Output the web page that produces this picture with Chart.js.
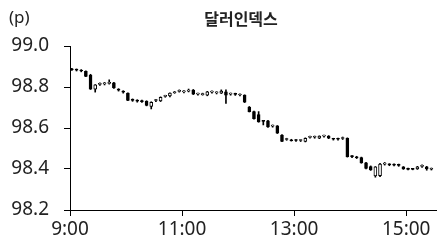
<!DOCTYPE html>
<html>
<head>
<meta charset="utf-8">
<script src="https://cdn.jsdelivr.net/npm/chart.js@4/dist/chart.umd.min.js"></script>
<style>
  html, body { margin: 0; padding: 0; background: #fff; }
  #wrap { width: 437px; height: 246px; }
</style>
</head>
<body>
<div id="wrap"><canvas id="dxyChart" width="437" height="246"></canvas></div>
<script>
// 5-minute candles, minutes after 9:00
const minutes = [0,5,10,15,20,25,30,35,40,45,50,55,60,65,70,75,80,85,90,95,100,105,110,115,120,125,130,135,140,145,150,155,160,165,170,175,180,185,190,195,200,205,210,215,220,225,230,235,240,245,250,255,260,265,270,275,280,285,290,295,300,305,310,315,320,325,330,335,340,345,350,355,360,365,370,375,380,385];
const openValues = [98.886,98.883,98.880,98.876,98.858,98.790,98.813,98.815,98.818,98.820,98.787,98.777,98.770,98.736,98.733,98.731,98.730,98.705,98.734,98.732,98.754,98.756,98.772,98.779,98.776,98.780,98.785,98.765,98.763,98.760,98.775,98.771,98.770,98.776,98.765,98.765,98.761,98.760,98.702,98.680,98.665,98.634,98.635,98.609,98.610,98.566,98.544,98.542,98.540,98.539,98.535,98.554,98.555,98.550,98.560,98.561,98.546,98.546,98.549,98.550,98.461,98.456,98.456,98.430,98.412,98.366,98.368,98.424,98.421,98.420,98.418,98.410,98.401,98.400,98.400,98.413,98.410,98.399];
const highValues = [98.891,98.888,98.885,98.879,98.862,98.812,98.820,98.822,98.835,98.823,98.792,98.782,98.772,98.742,98.738,98.736,98.733,98.728,98.740,98.752,98.760,98.772,98.778,98.786,98.782,98.790,98.788,98.770,98.770,98.779,98.781,98.777,98.786,98.786,98.771,98.770,98.767,98.762,98.705,98.683,98.680,98.635,98.637,98.615,98.612,98.568,98.550,98.545,98.544,98.543,98.552,98.560,98.561,98.562,98.566,98.563,98.550,98.551,98.556,98.552,98.466,98.462,98.458,98.432,98.415,98.412,98.428,98.432,98.426,98.425,98.424,98.412,98.404,98.403,98.413,98.420,98.413,98.405];
const lowValues = [98.881,98.878,98.874,98.850,98.788,98.775,98.808,98.810,98.814,98.793,98.780,98.770,98.733,98.730,98.726,98.725,98.708,98.693,98.729,98.729,98.750,98.752,98.769,98.775,98.771,98.776,98.763,98.760,98.760,98.757,98.770,98.766,98.768,98.720,98.760,98.759,98.756,98.724,98.678,98.643,98.628,98.615,98.603,98.604,98.573,98.533,98.540,98.536,98.535,98.534,98.532,98.550,98.550,98.548,98.555,98.548,98.541,98.541,98.544,98.458,98.455,98.451,98.428,98.401,98.393,98.360,98.362,98.419,98.416,98.415,98.413,98.398,98.396,98.396,98.398,98.408,98.394,98.395];
const closeValues = [98.884,98.882,98.878,98.852,98.790,98.810,98.815,98.816,98.820,98.795,98.785,98.775,98.735,98.735,98.731,98.729,98.710,98.725,98.736,98.750,98.756,98.770,98.776,98.781,98.777,98.781,98.765,98.766,98.768,98.776,98.776,98.772,98.780,98.760,98.766,98.764,98.762,98.726,98.680,98.645,98.630,98.632,98.605,98.610,98.575,98.535,98.545,98.538,98.539,98.540,98.550,98.555,98.556,98.560,98.561,98.550,98.545,98.545,98.550,98.460,98.460,98.455,98.430,98.403,98.395,98.410,98.424,98.425,98.420,98.419,98.418,98.400,98.398,98.398,98.410,98.414,98.400,98.400];
const yTicks = [98.2, 98.4, 98.6, 98.8, 99.0];
const xTicks = [0, 120, 240, 360];

const chartTitle = '달러인덱스';
const unitLabel = '(p)';

document.addEventListener('DOMContentLoaded', function() {
  const canvas = document.getElementById('dxyChart');

  // candle drawn in the middle of its 5 minute slot
  const slotCenter = 2;
  const wickData = minutes.map((m, i) => ({ x: m + slotCenter, y: [lowValues[i], highValues[i]] }));
  const bodyData = minutes.map((m, i) => ({ x: m + slotCenter, y: [openValues[i], closeValues[i]] }));
  const bodyFill = minutes.map((m, i) => closeValues[i] > openValues[i] ? '#ffffff' : '#000000');

  const titlePlugin = {
    id: 'titleText',
    afterDraw(chart) {
      const ctx = chart.ctx;
      ctx.save();
      ctx.fillStyle = '#222';
      ctx.textBaseline = 'middle';
      ctx.font = '17px "Noto Sans", "Noto Sans CJK KR"';
      ctx.textAlign = 'left';
      ctx.fillText(unitLabel, 9, 18);
      ctx.font = 'bold 16px "Noto Sans CJK KR"';
      ctx.textAlign = 'center';
      ctx.fillText(chartTitle, 241, 19);
      ctx.restore();
    }
  };

  new Chart(canvas, {
    type: 'bar',
    data: {
      datasets: [
        {
          label: 'body',
          data: bodyData,
          backgroundColor: bodyFill,
          borderColor: '#000000',
          borderWidth: 1,
          borderSkipped: false,
          barThickness: 3,
          minBarLength: 1,
          grouped: false,
          order: 0
        },
        {
          label: 'wick',
          data: wickData,
          backgroundColor: '#000000',
          borderWidth: 0,
          barThickness: 1,
          minBarLength: 1,
          grouped: false,
          order: 1
        }
      ]
    },
    options: {
      responsive: false,
      animation: false,
      layout: { padding: { top: 46, right: 0, left: 0, bottom: 0 } },
      plugins: {
        legend: { display: false },
        tooltip: { enabled: false }
      },
      scales: {
        x: {
          type: 'linear',
          offset: false,
          min: 0,
          max: 393,
          grid: { offset: false, drawOnChartArea: false, drawTicks: true, tickLength: 6, color: '#000' },
          border: { display: true, color: '#000', width: 1 },
          afterBuildTicks: function(scale) {
            scale.ticks = xTicks.map(v => ({ value: v }));
          },
          afterFit: function(scale) { scale.height = 36; },
          ticks: {
            color: '#222',
            font: { family: '"Noto Sans"', size: 19 },
            padding: 2,
            maxRotation: 0,
            autoSkip: false,
            callback: function(v) { return (9 + v / 60) + ':00'; }
          }
        },
        y: {
          min: 98.2,
          max: 99.0,
          grid: { drawOnChartArea: false, drawTicks: true, tickLength: 6, color: '#000' },
          border: { display: true, color: '#000', width: 1 },
          afterBuildTicks: function(scale) {
            scale.ticks = yTicks.map(v => ({ value: v }));
          },
          afterFit: function(scale) { scale.width = 70; },
          ticks: {
            color: '#222',
            font: { family: '"Noto Sans"', size: 19 },
            padding: 15,
            callback: function(v) { return v.toFixed(1); }
          }
        }
      }
    },
    plugins: [titlePlugin]
  });
});
</script>
</body>
</html>
